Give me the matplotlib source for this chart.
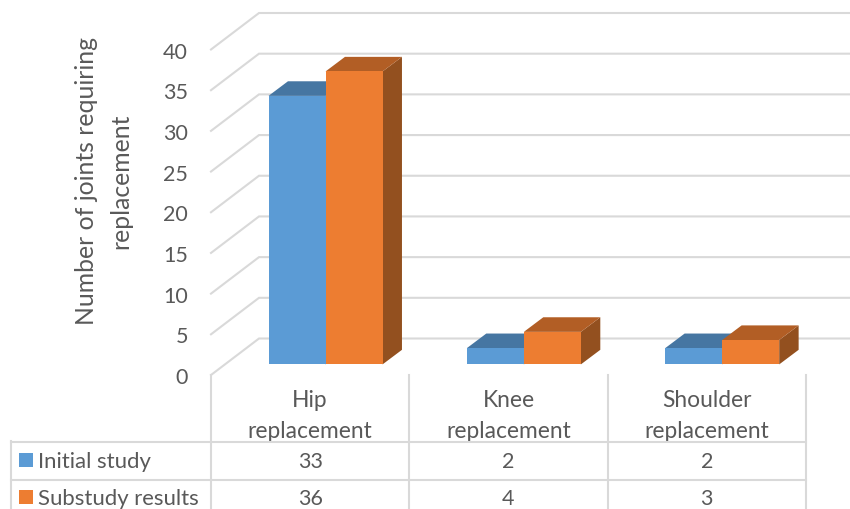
import matplotlib
matplotlib.use("Agg")
import matplotlib.pyplot as plt
from matplotlib.patches import Polygon, Rectangle
from matplotlib.transforms import Affine2D

categories = ["Hip\nreplacement", "Knee\nreplacement", "Shoulder\nreplacement"]
series_names = ["Initial study", "Substudy results"]
initial_study = [33, 2, 2]
substudy_results = [36, 4, 3]
y_ticks = [0, 5, 10, 15, 20, 25, 30, 35, 40]
y_label = "Number of joints requiring\nreplacement"

W, H = 850, 510
FONT = "Lato"
TXT = "#595959"
GRID = "#D9D9D9"
FS_TICK = 15.5
FS_CAT = 16.4
FS_LEG = 15.9
FS_YL = 17.8

fig = plt.figure(figsize=(W / 100, H / 100), dpi=100, facecolor="white")
L, R, B, T = 211, 806, 376, 50.5
ax = fig.add_axes([L / W, 1 - B / H, (R - L) / W, (B - T) / H])
ax.set_xlim(-0.5, 2.5)
ax.set_ylim(0, 40)
ax.patch.set_visible(False)
for s in ax.spines.values():
    s.set_visible(False)

px_x = (R - L) / 3
px_y = (B - T) / 40
DX = 48 / px_x      # depth of the floor, data units
DY = 36.5 / px_y

# walls
for v in y_ticks:
    ax.plot([-0.5, -0.5 + DX, 2.5 + DX], [v, v + DY, v + DY], color=GRID, lw=1.5,
            clip_on=False, solid_joinstyle="miter", zorder=1)

F0X, F1X = 0.32, 0.725   # bar front and back, fraction of depth
F0Y, F1Y = 0.29, 0.69
BW = 57 / px_x
palette = [("#5B9BD5", "#4676A2", "#3F6A92"), ("#ED7D31", "#B25E25", "#93501F")]


def bar(x0, value, cols, z):
    front, top, side = cols
    x1 = x0 + BW
    ox, oy = F0X * DX, F0Y * DY
    bx, by = F1X * DX, F1Y * DY
    ax.add_patch(Polygon([(x1 + ox, oy), (x1 + bx, by), (x1 + bx, value + by), (x1 + ox, value + oy)],
                         fc=side, ec="none", clip_on=False, zorder=z))
    ax.add_patch(Polygon([(x0 + ox, value + oy), (x0 + bx, value + by), (x1 + bx, value + by), (x1 + ox, value + oy)],
                         fc=top, ec="none", clip_on=False, zorder=z))
    ax.add_patch(Rectangle((x0 + ox, oy), BW, value, fc=front, ec="none", clip_on=False, zorder=z + 0.5))


for i, (a, b) in enumerate(zip(initial_study, substudy_results)):
    bar(i - BW, a, palette[0], 3 + i)
    bar(i, b, palette[1], 3.6 + i)

ax.set_yticks(y_ticks)
ax.set_yticklabels([str(v) for v in y_ticks], fontfamily=FONT, fontsize=FS_TICK, color=TXT)
ax.set_xticks(range(3))
ax.set_xticklabels(categories, fontfamily=FONT, fontsize=FS_CAT, color=TXT, linespacing=1.62)
ax.tick_params(axis="y", length=0, pad=16.5)
ax.tick_params(axis="x", length=0, pad=10)

# pixel-coordinate transform for the data table and axis title
pix = Affine2D().scale(1 / W, -1 / H).translate(0, 1) + fig.transFigure


def line(xs, ys):
    fig.add_artist(plt.Line2D(xs, ys, color=GRID, lw=1.5, transform=pix, zorder=2))


table_x = [L + i * px_x for i in range(4)]
line([11, R], [442.5, 442.5])
line([11, R], [480.5, 480.5])
line([11, 11], [442, 510])
for x in table_x:
    line([x, x], [B, 510])

row_y = [461, 498]
for r, (name, vals) in enumerate(zip(series_names, [initial_study, substudy_results])):
    fig.add_artist(Rectangle((19, row_y[r] - 7.5), 14, 14, fc=palette[r][0], ec="none", transform=pix))
    fig.text(38, row_y[r] + 1, name, transform=pix, ha="left", va="center",
             fontfamily=FONT, fontsize=FS_LEG, color=TXT)
    for i, v in enumerate(vals):
        fig.text(L + (i + 0.5) * px_x, row_y[r] + 1, str(v), transform=pix, ha="center", va="center",
                 fontfamily=FONT, fontsize=FS_TICK, color=TXT)

fig.text(103.5, 181, y_label, transform=pix, rotation=90, ha="center", va="center", multialignment="center",
         fontfamily=FONT, fontsize=FS_YL, color=TXT, linespacing=1.56)

fig.savefig("out.png", dpi=100)
